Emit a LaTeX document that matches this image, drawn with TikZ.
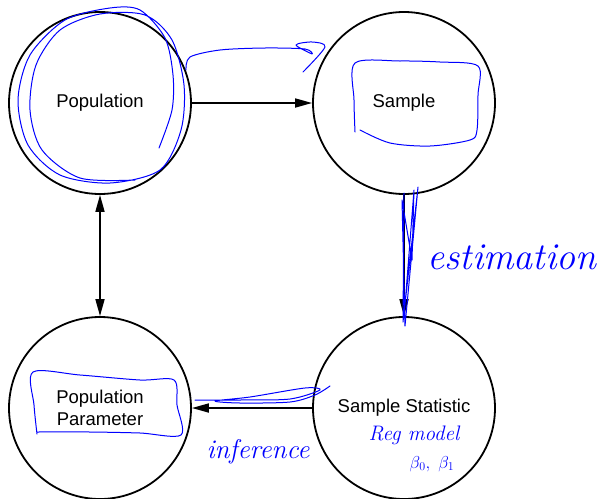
\documentclass[tikz,border=0pt]{standalone}
\usepackage{amsmath,amssymb}
\usepackage{fontspec}
\setsansfont{Liberation Sans}
\usepackage{tikz}
\usetikzlibrary{arrows.meta}

\begin{document}
\begin{tikzpicture}[x=1pt, y=-1pt,
        blob/.style={circle, draw, line width=1.8pt, minimum size=182pt, inner sep=0pt,
                     align=center, font=\sffamily\fontsize{18.5}{22}\selectfont},
        link/.style={line width=1.7pt, -{Triangle[length=17pt,width=9pt]}},
        ink/.style={blue, line width=1pt, line cap=round, line join=round},
        hand/.style={blue, inner sep=0pt, font=\itshape}]
        \useasboundingbox (0, 0) rectangle (602, 498);
        \node[blob] (pop) at (100, 103) {Population};
        \node[blob] (smp) at (404, 103) {Sample};
        \node[blob] (par) at (100, 408) {Population\\Parameter};
        \node[blob] (sta) at (404, 408) {Sample Statistic};
        \draw[link] (pop) -- (smp);
        \draw[link] (smp) -- (sta);
        \draw[link] (sta) -- (par);
        \draw[link, {Triangle[length=17pt,width=9pt]}-{Triangle[length=17pt,width=9pt]}] (pop) -- (par);
        % blue pen marks
        \draw[ink] plot[smooth] coordinates {(159, 148) (172, 110) (173, 75) (165, 38) (140, 10) (110, 8) (65, 20) (30, 55) (18, 100) (28, 145) (60, 175) (110, 183) (160, 170) (181, 130) (184, 85) (172, 40) (145, 15) (100, 14) (60, 30) (36, 65) (30, 110) (42, 150) (80, 178) (135, 180)};
        \draw[ink] plot[smooth] coordinates {(186, 70) (190, 57) (220, 50) (265, 48) (305, 49) (312, 54) (296, 45) (312, 42) (325, 47) (303, 72)};
        \draw[ink] plot[smooth] coordinates {(355, 132) (354, 100) (355, 63) (400, 61) (440, 62) (478, 66) (478, 95) (477, 130) (470, 140) (430, 146) (390, 143) (360, 130)};
        \draw[ink] plot coordinates {(404, 193) (403, 322) (418, 187) (405, 326) (402, 200) (412, 260) (414, 190) (404, 318)};
        \draw[ink] plot[smooth] coordinates {(37, 434) (34, 405) (33, 372) (80, 375) (140, 380) (174, 380) (177, 405) (181, 435) (140, 433) (90, 432) (37, 432)};
        \draw[ink] plot[smooth] coordinates {(195, 400) (240, 400) (290, 399) (320, 390) (305, 388) (250, 397) (215, 401) (240, 403) (290, 402) (315, 395) (330, 386)};
        \node[hand, font=\itshape\fontsize{38}{38}\selectfont] (est) at (512, 257) {estimation};
        \node[hand, font=\itshape\fontsize{27}{27}\selectfont] (inf) at (258, 452) {inference};
        \node[hand, font=\itshape\fontsize{21}{21}\selectfont] (reg) at (414, 435) {Reg model};
        \node[hand, font=\fontsize{17}{17}\selectfont] (bet) at (432, 464) {$\beta_0,\ \beta_1$};
\end{tikzpicture}
\end{document}
